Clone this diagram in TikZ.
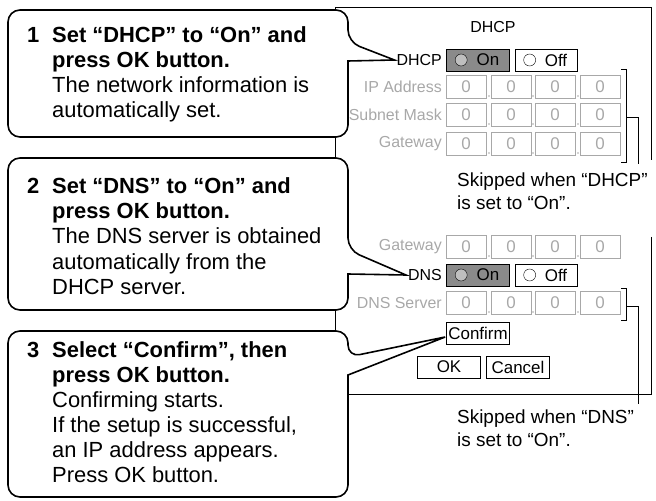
\documentclass[tikz,border=0pt]{standalone}
\usepackage{fontspec}
\setmainfont{Liberation Sans}
\usetikzlibrary{calc}
\definecolor{dimgray}{HTML}{A8A8A8}
\definecolor{ongray}{HTML}{8A8A8A}
\tikzset{
  callout/.style={line width=1.6pt,fill=white,rounded corners=12bp},
  boxtext/.style={anchor=base west,inner sep=0,font=\fontsize{22}{25}\selectfont},
  boxhead/.style={boxtext,font=\fontsize{22}{25}\selectfont\bfseries},
  lbl/.style={anchor=east,inner sep=0,font=\fontsize{16}{19}\selectfont},
  dimlbl/.style={lbl,text=dimgray},
  field/.style={draw=dimgray,line width=0.6pt,minimum width=40bp,minimum height=23bp,inner sep=0,
                text=dimgray,font=\fontsize{17}{20}\selectfont},
  btn/.style={draw,line width=0.7pt,minimum height=22bp,inner sep=0,font=\fontsize{17}{20}\selectfont},
  note/.style={anchor=base west,inner sep=0,font=\fontsize{19}{22}\selectfont},
  skip/.style={line width=0.6pt}
}
% four address fields on one row
\newcommand\addrrow[2]{%
  \foreach \xc/\k in {466/1,511/2,555/3,600/4}
    \node[field] (#1\k) at (\xc,#2) {0};
  \foreach \xd in {489,533,578}
    \fill[dimgray] (\xd,#2+9) circle (0.8bp);
}
% radio button pair
\newcommand\onoff[2]{%
  \node[btn,fill=ongray,minimum width=63bp] (#1on) at (478,#2) {\hspace*{20bp}On};
  \draw[fill=lightgray] ($(#1on.west)+(15,0)$) circle (6bp);
  \node[btn,fill=white,minimum width=62bp] (#1off) at (546,#2) {\hspace*{20bp}Off};
  \draw ($(#1off.west)+(15,0)$) circle (6bp);
}
\begin{document}
\begin{tikzpicture}[x=1bp,y=-1bp]
\useasboundingbox (0,0) rectangle (656,501);
% screen frame
\draw[line width=0.9pt] (335,165) -- (335,7) -- (651,7) -- (651,160);
\draw[line width=0.9pt] (651,237) -- (651,394) -- (335,394) -- (335,165);

\node[font=\fontsize{16}{19}\selectfont] (title) at (493,27) {DHCP};
\node[lbl] (dhcp) at (442,60) {DHCP};
\onoff{dh}{60}
\node[dimlbl] (ip) at (442,87) {IP Address};
\addrrow{ip}{87}
\node[dimlbl] (mask) at (442,115) {Subnet Mask};
\addrrow{mask}{115}
\node[dimlbl] (gw) at (442,144) {Gateway};
\addrrow{gw}{144}
\draw[skip] (621,69) -- (626,69) -- (626,162) -- (621,162);
\draw[skip] (626,117) -- (638,117) -- (638,164);
\node[note] (skip1) at (457,187) {Skipped when “DHCP”};
\node[note] at (457,210) {is set to “On”.};

\node[dimlbl] (gw2) at (442,247) {Gateway};
\addrrow{gwb}{247}
\node[lbl] (dns) at (442,275) {DNS};
\onoff{dn}{275}
\node[dimlbl] (srv) at (442,303) {DNS Server};
\addrrow{srv}{303}
\draw[skip] (621,288) -- (626,288) -- (626,320) -- (621,320);
\draw[skip] (626,306) -- (638,306) -- (638,404);
\node[btn,fill=white,minimum width=63bp] (confirm) at (478,333) {Confirm};
\node[btn,minimum width=63bp] (ok) at (449,367) {OK};
\node[btn,minimum width=63bp] (cancel) at (518,367) {Cancel};
\node[note] (skip2) at (457,423) {Skipped when “DNS”};
\node[note] at (457,446) {is set to “On”.};

% callouts
\draw[callout] (348,42) [sharp corners]-- ($(dhcp.west)+(-2,0)$) -- (348,61) [rounded corners=12bp]
  -- (348,137) -- (8,137) -- (8,10) -- (348,10) -- cycle;
\draw[callout] (348,250) [sharp corners]-- ($(dns.west)+(-2,0)$) -- (348,274) [rounded corners=12bp]
  -- (348,310) -- (8,310) -- (8,158) -- (348,158) -- cycle;
\draw[callout] (348,357) [sharp corners]-- ($(confirm.west)+(-1,4)$) -- (348,375) [rounded corners=12bp]
  -- (348,497) -- (8,497) -- (8,331) -- (348,331) -- cycle;

\node[boxhead] at (27,43) {1};
\node[boxhead] at (52,43) {Set “DHCP” to “On” and};
\node[boxhead] at (52,68) {press OK button.};
\node[boxtext] at (52,93) {The network information is};
\node[boxtext] at (52,118) {automatically set.};

\node[boxhead] at (27,194) {2};
\node[boxhead] at (52,194) {Set “DNS” to “On” and};
\node[boxhead] at (52,219) {press OK button.};
\node[boxtext] at (52,244) {The DNS server is obtained};
\node[boxtext] at (52,269) {automatically from the};
\node[boxtext] at (52,294) {DHCP server.};

\node[boxhead] at (27,357) {3};
\node[boxhead] at (52,357) {Select “Confirm”, then};
\node[boxhead] at (52,382) {press OK button.};
\node[boxtext] at (52,407) {Confirming starts.};
\node[boxtext] at (52,432) {If the setup is successful,};
\node[boxtext] at (52,457) {an IP address appears.};
\node[boxtext] at (52,482) {Press OK button.};
\end{tikzpicture}
\end{document}
